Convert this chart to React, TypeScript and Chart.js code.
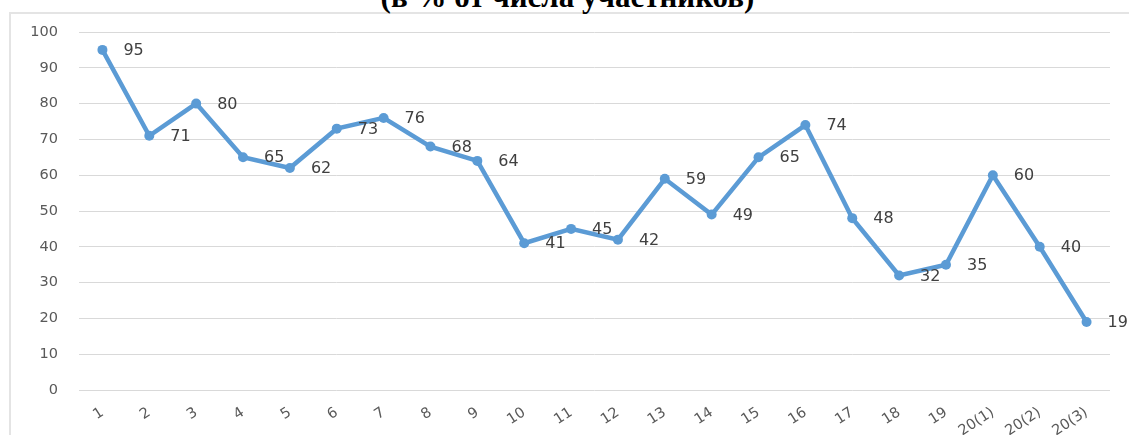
import React, { useEffect, useRef } from "react";
import { Chart, registerables } from "chart.js";

Chart.register(...registerables);

const categories: string[] = [
  "1", "2", "3", "4", "5", "6", "7", "8", "9", "10", "11", "12", "13", "14", "15", "16", "17", "18", "19",
  "20(1)", "20(2)", "20(3)",
];
const values: number[] = [95, 71, 80, 65, 62, 73, 76, 68, 64, 41, 45, 42, 59, 49, 65, 74, 48, 32, 35, 60, 40, 19];
const yMin = 0;
const yMax = 100;
const yStep = 10;
const titleText = "(в % от числа участников)";

const LINE_COLOR = "#5B9BD5";

const dataLabelPlugin = {
  id: "dataLabels",
  afterDatasetsDraw(chart: any) {
    const meta = chart.getDatasetMeta(0);
    const ctx = chart.ctx;
    ctx.save();
    ctx.font = "16px 'DejaVu Sans', sans-serif";
    ctx.fillStyle = "#404040";
    ctx.textAlign = "left";
    ctx.textBaseline = "middle";
    meta.data.forEach((pt: any, i: number) => {
      ctx.fillText(String(values[i]), pt.x + 21, pt.y + 1);
    });
    ctx.restore();
  },
};

export default function App() {
  const ref = useRef<HTMLCanvasElement | null>(null);

  useEffect(() => {
    if (!ref.current) return;
    const chart = new Chart(ref.current, {
      type: "line",
      data: {
        labels: categories,
        datasets: [
          {
            data: values,
            borderColor: LINE_COLOR,
            backgroundColor: LINE_COLOR,
            borderWidth: 4.5,
            pointRadius: 5,
            pointBackgroundColor: LINE_COLOR,
            pointBorderColor: LINE_COLOR,
            pointBorderWidth: 0,
            tension: 0,
            fill: false,
          },
        ],
      },
      options: {
        animation: false,
        responsive: false,
        maintainAspectRatio: false,
        devicePixelRatio: 1,
        layout: { padding: { left: 0, right: 19, top: 32, bottom: 0 } },
        plugins: {
          legend: { display: false },
          title: { display: false },
          tooltip: { enabled: false },
        },
        scales: {
          x: {
            type: "category",
            offset: true,
            grid: { display: false, drawTicks: false },
            border: { display: false },
            ticks: {
              autoSkip: false,
              minRotation: 33,
              maxRotation: 33,
              color: "#595959",
              font: { family: "'DejaVu Sans', sans-serif", size: 14.5 },
              padding: 14,
            },
            afterFit: (s: any) => {
              s.height = 45;
            },
          },
          y: {
            min: yMin,
            max: yMax,
            ticks: {
              stepSize: yStep,
              color: "#595959",
              font: { family: "'DejaVu Sans', sans-serif", size: 14.5 },
              padding: 21,
            },
            grid: { color: "#d9d9d9", lineWidth: 1, drawTicks: false },
            border: { display: false },
            afterFit: (s: any) => {
              s.width = 79;
            },
          },
        },
      },
      plugins: [dataLabelPlugin],
    });
    return () => chart.destroy();
  }, []);

  return (
    <div
      style={{
        position: "absolute",
        left: 0,
        top: 0,
        width: 1129,
        height: 435,
        overflow: "hidden",
        background: "#ffffff",
      }}
    >
      <div
        style={{
          position: "absolute",
          left: 9,
          top: 12,
          width: 1200,
          height: 500,
          borderTop: "2px solid #e4e4e4",
          borderLeft: "2px solid #e4e4e4",
        }}
      />
      <div
        style={{
          position: "absolute",
          left: 3,
          top: -19,
          width: 1129,
          textAlign: "center",
          fontFamily: "'Liberation Serif', 'Times New Roman', serif",
          fontWeight: "bold",
          fontSize: 31,
          lineHeight: 1,
          color: "#000",
          whiteSpace: "nowrap",
        }}
      >
        {titleText}
      </div>
      <canvas
        ref={ref}
        width={1129}
        height={435}
        style={{ position: "absolute", left: 0, top: 0, width: 1129, height: 435 }}
      />
    </div>
  );
}
